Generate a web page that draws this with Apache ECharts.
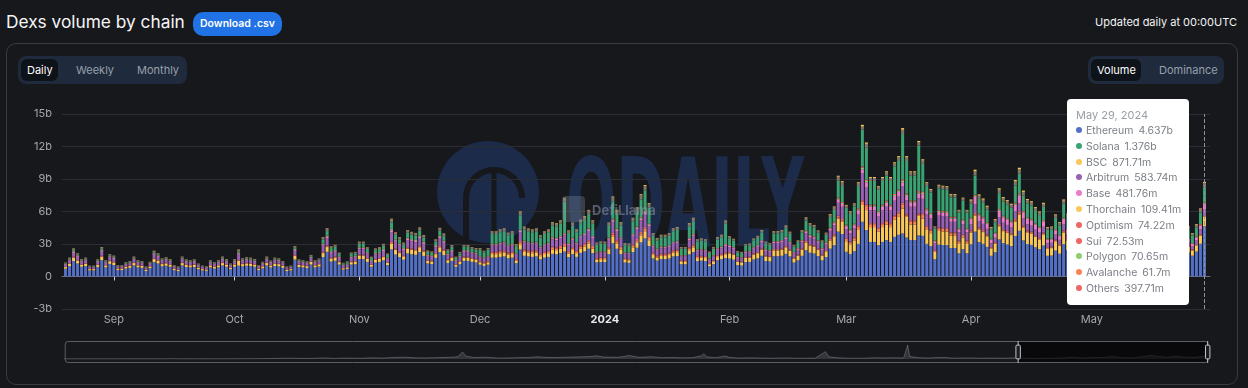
<!DOCTYPE html>
<html><head><meta charset="utf-8">
<script src="https://cdn.jsdelivr.net/npm/echarts@6/dist/echarts.min.js"></script>
<style>
html,body{margin:0;padding:0;width:1248px;height:388px;background:#17181c;overflow:hidden;font-family:Inter,"Noto Sans",sans-serif;}
.abs{position:absolute;}
#title{left:6px;top:8px;font-size:17.3px;line-height:28px;color:#f5f5f6;}
#dl{left:193px;top:12px;width:89px;height:24px;line-height:24px;border-radius:10px;background:#2172e5;color:#fff;font-size:10.5px;font-weight:600;text-align:center;}
#upd{right:11px;top:14px;font-size:11px;line-height:16px;color:#f2f3f4;}
#panel{left:6px;top:43px;width:1230px;height:340px;border:1px solid #393b42;border-radius:10px;}
.tg{background:#1f2a3c;border-radius:8px;height:28px;top:56px;}
.pill{background:#0e1219;border-radius:6px;height:22px;top:59px;}
.tt{top:56px;line-height:28px;font-size:11px;color:#97a0ab;}
.sel{color:#fff;}
#chart{left:0;top:0;width:1248px;height:388px;}
</style></head><body>
<div id="title" class="abs">Dexs volume by chain</div>
<div id="dl" class="abs">Download .csv</div>
<div id="upd" class="abs">Updated daily at 00:00UTC</div>
<div id="panel" class="abs"></div>
<div class="abs tg" style="left:18px;width:169px;"></div>
<div class="abs pill" style="left:21px;width:37px;"></div>
<div class="abs tt sel" style="left:27px;">Daily</div>
<div class="abs tt" style="left:76px;">Weekly</div>
<div class="abs tt" style="left:137px;">Monthly</div>
<div class="abs tg" style="left:1088px;width:136px;"></div>
<div class="abs pill" style="left:1091px;width:50px;"></div>
<div class="abs tt sel" style="left:1097px;">Volume</div>
<div class="abs tt" style="left:1159px;">Dominance</div>
<div id="chart" class="abs"></div>
<script>
// ---- data (billions USD), daily from 2023-08-20 to 2024-05-29 ----
const firstDay = [2023, 7, 20];
const dayCount = 284;

const ethereum = [.72,.97,1.43,1.20,.90,.97,.56,.56,.88,1.51,
.84,1.16,1.06,.59,.59,.73,.80,1.02,.84,.80,
.50,.76,1.33,1.20,.94,.99,.90,.59,.50,1.02,
.88,.84,.88,.67,.56,.52,.84,.73,.84,1.02,
.90,.67,.90,1.00,.94,.99,.97,.90,.59,.76,
1.02,.83,.97,.94,.80,.50,.56,1.56,.87,.84,
.78,1.10,.84,.92,
1.80,2.28,1.38,1.45,1.10,.63,.70,1.10,1.13,1.60,
1.60,1.35,.90,1.28,1.35,1.49,1.05,2.50,2.03,1.80,
1.55,2.13,2.05,2.00,2.25,1.90,1.20,1.15,1.72,2.24,
1.97,1.25,1.44,.90,1.13,1.44,1.44,1.35,1.30,
1.09,.98,1.09,1.74,1.74,1.81,1.85,1.68,1.74,1.23,
2.49,1.91,1.85,1.81,1.85,1.58,1.74,1.81,2.09,2.04,
2.16,2.30,1.78,2.06,1.81,2.18,2.31,2.56,2.16,1.30,
1.34,1.34,2.06,3.07,2.56,2.08,1.29,1.26,2.26,2.65,
3.15,3.51,2.81,1.66,1.47,1.60,1.60,1.66,1.85,1.89,
1.13,1.13,2.04,2.26,1.43,1.46,1.43,.95,1.13,1.50,
1.60,1.70,
1.65,1.55,1.05,1.01,1.33,1.35,1.57,1.67,1.91,1.43,
1.39,1.87,1.87,1.91,2.09,1.85,1.29,1.49,1.91,2.43,
2.19,2.12,1.89,1.49,1.80,2.57,2.88,4.14,3.92,
2.28,2.08,2.33,3.01,5.05,4.29,3.19,3.19,2.89,3.19,
3.36,3.19,3.66,3.85,3.97,3.60,3.36,3.36,3.80,3.75,
3.01,2.80,1.59,2.94,2.91,2.89,2.63,2.63,2.14,2.52,
2.14,
2.98,4.14,3.18,3.02,2.73,1.91,2.23,3.42,3.09,2.96,
2.81,3.74,4.22,3.33,3.00,2.92,2.69,2.52,2.86,1.91,
1.93,2.39,2.10,2.98,2.44,
2.83,3.07,2.50,2.02,1.73,3.12,2.64,2.40,2.21,1.82,
1.63,2.06,2.30,2.16,1.92,2.21,1.68,1.54,2.30,2.59,
2.88,2.35,2.21,1.92,1.82,3.26,3.65,3.12,2.50,2.21,
1.92,2.30,3.02,
4.637];

const bsc = [.15,.21,.31,.26,.19,.21,.12,.12,.19,.32,
.18,.25,.23,.13,.13,.16,.17,.22,.18,.17,
.11,.16,.28,.26,.20,.21,.19,.13,.11,.22,
.19,.18,.19,.14,.12,.11,.18,.16,.18,.22,
.19,.14,.19,.45,.20,.21,.21,.19,.13,.16,
.22,.18,.21,.20,.17,.11,.12,.33,.19,.18,
.17,.24,.18,.20,
.36,.44,.28,.29,.22,.13,.14,.22,.23,.32,
.32,.27,.18,.26,.27,.30,.21,.53,.41,.36,
.31,.43,.41,.40,.45,.38,.24,.23,.34,.45,
.39,.25,.29,.18,.23,.29,.29,.27,.26,
.21,.19,.21,.33,.33,.34,.35,.32,.33,.24,
.48,.36,.35,.34,.35,.30,.33,.34,.40,.39,
.41,.45,.34,.39,.34,.42,.44,.49,.41,.25,
.26,.26,.39,.58,.49,.40,.24,.24,.43,.50,
.60,.67,.54,.32,.28,.30,.30,.32,.35,.36,
.22,.22,.39,.43,.27,.28,.27,.18,.22,.29,
.30,.35,
.48,.45,.30,.29,.38,.39,.45,.48,.55,.41,
.40,.54,.54,.55,.60,.53,.37,.43,.55,.70,
.63,.61,.55,.43,.52,.74,.83,1.20,1.13,
.98,.89,1.00,1.29,1.55,1.84,1.37,1.37,1.24,1.37,
1.44,1.37,1.57,1.65,2.30,1.90,1.44,1.44,1.80,1.60,
1.29,1.20,.68,1.26,1.25,1.24,1.13,1.13,.92,1.08,
.92,
1.07,1.48,1.14,1.08,.98,.68,.80,1.22,1.10,1.06,
1.01,1.34,1.51,1.19,1.07,1.04,.96,.90,1.02,.68,
.69,.86,.75,1.07,.87,
.71,.77,.62,.50,.43,.78,.66,.60,.55,.46,
.41,.52,.58,.54,.48,.55,.42,.38,.58,.65,
.72,.59,.55,.48,.46,.82,.91,.78,.62,.55,
.48,.58,.76,
.87171];

const arbitrum = [.18,.24,.36,.30,.22,.24,.14,.14,.22,.38,
.21,.29,.27,.15,.15,.18,.20,.26,.21,.20,
.13,.19,.33,.30,.23,.25,.22,.15,.13,.26,
.22,.21,.22,.17,.14,.13,.21,.18,.21,.26,
.22,.17,.22,.50,.23,.25,.24,.22,.15,.19,
.26,.21,.24,.23,.20,.13,.14,.39,.22,.21,
.20,.28,.21,.23,
.58,.70,.44,.46,.35,.20,.22,.35,.36,.51,
.51,.43,.29,.41,.43,.48,.34,.90,.65,.58,
.50,.68,.66,.64,.72,.61,.38,.37,.55,.72,
.63,.40,.46,.29,.36,.46,.46,.43,.42,
.36,.33,.36,.58,.58,.60,.62,.56,.58,.41,
.83,.64,.62,.60,.62,.53,.58,.60,.70,.68,
.72,.80,.59,.69,.60,.73,.77,.85,.72,.43,
.45,.45,.69,1.02,.85,.69,.43,.42,.75,.88,
1.05,1.17,.94,.55,.49,.53,.53,.55,.62,.63,
.38,.38,.68,.75,.48,.49,.48,.32,.38,.50,
.53,.60,
.48,.45,.30,.29,.38,.39,.45,.48,.55,.41,
.40,.54,.54,.55,.60,.53,.37,.43,.55,.70,
.63,.61,.55,.43,.52,.74,.83,1.20,1.13,
.85,.77,.86,1.12,2.46,1.59,1.18,1.18,1.07,1.18,
1.25,1.18,1.36,1.43,1.50,1.30,1.25,1.25,1.40,1.39,
1.12,1.04,.59,1.09,1.08,1.07,.98,.98,.79,.94,
.79,
.57,.79,.61,.58,.52,.36,.42,.65,.59,.56,
.54,.71,.80,.63,.57,.56,.51,.48,.54,.36,
.37,.46,.40,.57,.46,
.41,.45,.36,.29,.25,.46,.39,.35,.32,.27,
.24,.30,.34,.32,.28,.32,.25,.22,.34,.38,
.42,.34,.32,.28,.27,.48,.53,.46,.36,.32,
.28,.34,.44,
.58374];

const solana = [.04,.05,.08,.06,.05,.05,.03,.03,.05,.08,
.05,.06,.06,.03,.03,.04,.04,.05,.05,.04,
.03,.04,.07,.06,.05,.05,.05,.03,.03,.05,
.05,.05,.05,.04,.03,.03,.05,.04,.05,.05,
.05,.04,.05,.08,.05,.05,.05,.05,.03,.04,
.05,.04,.05,.05,.04,.03,.03,.08,.05,.05,
.04,.06,.05,.05,
.36,.40,.28,.29,.22,.12,.14,.22,.22,.32,
.32,.27,.18,.26,.27,.30,.21,.60,.41,.36,
.31,.43,.41,.40,.45,.38,.24,.23,.34,.45,
.39,.25,.29,.18,.22,.29,.29,.27,.26,
.57,.51,.57,.91,.91,.95,.97,.88,.91,.65,
1.31,1.00,.97,.95,.97,.83,.91,.95,1.09,1.07,
1.13,2.90,.93,1.08,.95,1.14,1.21,1.34,1.13,.68,
.70,.70,1.08,1.61,1.34,1.09,.67,.66,1.18,1.39,
1.65,1.84,1.47,.87,.77,.84,.84,.87,.97,.99,
.59,.59,1.07,1.18,.75,.77,.75,.50,.59,.79,
.84,1.90,
.62,.59,.40,.38,.50,.51,.59,.63,.72,.54,
.52,.71,.71,.72,.79,.70,.49,.56,.72,.92,
.83,.80,.71,.56,.68,.97,1.09,1.56,1.48,
1.56,1.43,1.60,2.06,3.40,2.94,2.18,2.18,1.98,2.18,
2.30,2.18,2.51,2.64,4.20,3.00,2.30,2.30,4.20,2.57,
2.06,1.92,1.09,2.02,1.99,1.98,1.80,1.80,1.46,1.73,
1.46,
1.28,1.77,1.36,1.30,1.17,.82,.95,1.47,1.32,1.27,
1.21,1.60,1.81,1.43,1.29,1.25,1.15,1.08,1.22,.82,
.83,1.03,.90,1.28,1.04,
1.00,1.09,.88,.71,.61,1.11,.94,.85,.78,.65,
.58,.73,.82,.77,.68,.78,.60,.54,.82,.92,
1.02,.83,.78,.68,.65,1.16,1.29,1.11,.88,.78,
.68,.82,1.07,
1.376];

const base = [.05,.07,.10,.09,.06,.07,.04,.04,.06,.11,
.06,.08,.08,.04,.04,.05,.06,.07,.06,.06,
.04,.05,.09,.09,.07,.07,.06,.04,.04,.07,
.06,.06,.06,.05,.04,.04,.06,.05,.06,.07,
.06,.05,.06,.10,.07,.07,.07,.06,.04,.05,
.07,.06,.07,.07,.06,.04,.04,.11,.06,.06,
.06,.08,.06,.07,
.11,.13,.08,.09,.07,.04,.04,.07,.07,.10,
.10,.08,.05,.08,.08,.09,.06,.16,.12,.11,
.09,.13,.12,.12,.14,.11,.07,.07,.10,.13,
.12,.08,.09,.05,.07,.09,.09,.08,.08,
.05,.05,.05,.08,.08,.09,.09,.08,.08,.06,
.12,.09,.09,.09,.09,.08,.08,.09,.10,.10,
.10,.10,.08,.10,.09,.10,.11,.12,.10,.06,
.06,.06,.10,.15,.12,.10,.06,.06,.11,.13,
.15,.17,.13,.08,.07,.08,.08,.08,.09,.09,
.05,.05,.10,.11,.07,.07,.07,.05,.05,.07,
.08,.08,
.11,.10,.07,.07,.09,.09,.10,.11,.13,.10,
.09,.12,.12,.13,.14,.12,.09,.10,.13,.16,
.15,.14,.13,.10,.12,.17,.19,.28,.26,
.26,.24,.27,.34,.40,.49,.36,.36,.33,.36,
.38,.36,.42,.44,.40,.40,.38,.38,.45,.43,
.34,.32,.18,.34,.33,.33,.30,.30,.24,.29,
.24,
.50,.69,.53,.50,.46,.32,.37,.57,.51,.49,
.47,.62,.70,.55,.50,.49,.45,.42,.48,.32,
.32,.40,.35,.50,.41,
.35,.38,.31,.25,.22,.39,.33,.30,.28,.23,
.20,.26,.29,.27,.24,.28,.21,.19,.29,.32,
.36,.29,.28,.24,.23,.41,.46,.39,.31,.28,
.24,.29,.38,
.48176];

const others = [.06,.09,.13,.11,.08,.09,.05,.05,.08,.14,
.08,.10,.10,.05,.05,.07,.07,.09,.08,.07,
.05,.07,.12,.11,.08,.09,.08,.05,.05,.09,
.08,.08,.08,.06,.05,.05,.08,.07,.08,.09,
.08,.06,.08,.15,.08,.09,.09,.08,.05,.07,
.09,.07,.09,.08,.07,.05,.05,.14,.08,.08,
.07,.10,.08,.08,
.18,.22,.14,.15,.11,.06,.07,.11,.11,.16,
.16,.14,.09,.13,.14,.15,.11,.27,.20,.18,
.16,.21,.21,.20,.23,.19,.12,.12,.17,.22,
.20,.13,.14,.09,.11,.14,.14,.14,.13,
.13,.12,.13,.21,.21,.22,.22,.20,.21,.15,
.30,.23,.22,.22,.22,.19,.21,.22,.25,.24,
.26,.30,.21,.25,.22,.26,.28,.31,.26,.16,
.16,.16,.25,.37,.31,.25,.15,.15,.27,.32,
.38,.42,.34,.20,.18,.19,.19,.20,.22,.23,
.14,.14,.24,.27,.17,.17,.17,.11,.14,.18,
.19,.22,
.15,.14,.09,.09,.12,.12,.14,.15,.17,.13,
.12,.17,.17,.17,.19,.16,.11,.13,.17,.22,
.19,.19,.17,.13,.16,.23,.26,.37,.35,
.20,.18,.20,.26,.30,.37,.27,.27,.25,.27,
.29,.27,.31,.33,.40,.33,.29,.29,.32,.32,
.26,.24,.14,.25,.25,.25,.23,.23,.18,.22,
.18,
.28,.39,.30,.29,.26,.18,.21,.33,.29,.28,
.27,.36,.40,.32,.29,.28,.26,.24,.27,.18,
.18,.23,.20,.28,.23,
.27,.29,.23,.19,.16,.29,.25,.23,.21,.17,
.15,.19,.22,.20,.18,.21,.16,.14,.22,.24,
.27,.22,.21,.18,.17,.31,.34,.29,.23,.21,
.18,.22,.28,
.39771];

const optimism = [.03,.03,.05,.04,.03,.03,.02,.02,.03,.05,
.03,.04,.04,.02,.02,.03,.03,.04,.03,.03,
.02,.03,.05,.04,.03,.04,.03,.02,.02,.04,
.03,.03,.03,.02,.02,.02,.03,.03,.03,.04,
.03,.02,.03,.05,.03,.04,.03,.03,.02,.03,
.04,.03,.03,.03,.03,.02,.02,.06,.03,.03,
.03,.04,.03,.03,
.07,.09,.06,.06,.04,.03,.03,.04,.05,.06,
.06,.05,.04,.05,.05,.06,.04,.11,.08,.07,
.06,.09,.08,.08,.09,.08,.05,.05,.07,.09,
.08,.05,.06,.04,.05,.06,.06,.05,.05,
.05,.05,.05,.08,.08,.09,.09,.08,.08,.06,
.12,.09,.09,.09,.09,.08,.08,.09,.10,.10,
.10,.10,.08,.10,.09,.10,.11,.12,.10,.06,
.06,.06,.10,.15,.12,.10,.06,.06,.11,.13,
.15,.17,.13,.08,.07,.08,.08,.08,.09,.09,
.05,.05,.10,.11,.07,.07,.07,.05,.05,.07,
.08,.08,
.07,.07,.05,.05,.06,.06,.07,.07,.09,.06,
.06,.08,.08,.09,.09,.08,.06,.07,.09,.11,
.10,.09,.08,.07,.08,.11,.13,.18,.17,
.07,.06,.07,.09,.14,.12,.09,.09,.08,.09,
.10,.09,.10,.11,.13,.11,.10,.10,.10,.11,
.09,.08,.05,.08,.08,.08,.08,.08,.06,.07,
.06,
.11,.15,.11,.11,.10,.07,.08,.12,.11,.11,
.10,.13,.15,.12,.11,.10,.10,.09,.10,.07,
.07,.09,.08,.11,.09,
.06,.06,.05,.04,.04,.07,.06,.05,.05,.04,
.03,.04,.05,.05,.04,.05,.04,.03,.05,.05,
.06,.05,.05,.04,.04,.07,.08,.07,.05,.05,
.04,.05,.06,
.07422];

const polygon = [.03,.03,.05,.04,.03,.03,.02,.02,.03,.05,
.03,.04,.04,.02,.02,.03,.03,.04,.03,.03,
.02,.03,.05,.04,.03,.04,.03,.02,.02,.04,
.03,.03,.03,.02,.02,.02,.03,.03,.03,.04,
.03,.02,.03,.06,.03,.04,.03,.03,.02,.03,
.04,.03,.03,.03,.03,.02,.02,.06,.03,.03,
.03,.04,.03,.03,
.07,.09,.06,.06,.04,.03,.03,.04,.05,.06,
.06,.05,.04,.05,.05,.06,.04,.11,.08,.07,
.06,.09,.08,.08,.09,.08,.05,.05,.07,.09,
.08,.05,.06,.04,.05,.06,.06,.05,.05,
.03,.02,.03,.04,.04,.04,.04,.04,.04,.03,
.06,.05,.04,.04,.04,.04,.04,.04,.05,.05,
.05,.05,.04,.05,.04,.05,.06,.06,.05,.03,
.03,.03,.05,.07,.06,.05,.03,.03,.05,.06,
.08,.08,.07,.04,.04,.04,.04,.04,.04,.05,
.03,.03,.05,.05,.03,.03,.03,.02,.03,.04,
.04,.04,
.04,.03,.02,.02,.03,.03,.03,.04,.04,.03,
.03,.04,.04,.04,.05,.04,.03,.03,.04,.05,
.05,.05,.04,.03,.04,.06,.06,.09,.09,
.07,.06,.07,.09,.14,.12,.09,.09,.08,.09,
.10,.09,.10,.11,.13,.11,.10,.10,.10,.11,
.09,.08,.05,.08,.08,.08,.08,.08,.06,.07,
.06,
.07,.10,.08,.07,.07,.05,.05,.08,.07,.07,
.07,.09,.10,.08,.07,.07,.06,.06,.07,.05,
.05,.06,.05,.07,.06,
.06,.06,.05,.04,.04,.07,.06,.05,.05,.04,
.03,.04,.05,.05,.04,.05,.04,.03,.05,.05,
.06,.05,.05,.04,.04,.07,.08,.07,.05,.05,
.04,.05,.06,
.07065];

const avalanche = [.01,.02,.03,.02,.02,.02,.01,.01,.02,.03,
.01,.02,.02,.01,.01,.01,.01,.02,.01,.01,
.01,.01,.02,.02,.02,.02,.02,.01,.01,.02,
.02,.01,.02,.01,.01,.01,.01,.01,.01,.02,
.02,.01,.02,.03,.02,.02,.02,.02,.01,.01,
.02,.01,.02,.02,.01,.01,.01,.03,.02,.01,
.01,.02,.01,.02,
.04,.04,.03,.03,.02,.01,.01,.02,.02,.03,
.03,.03,.02,.03,.03,.03,.02,.06,.04,.04,
.03,.04,.04,.04,.04,.04,.02,.02,.03,.04,
.04,.02,.03,.02,.02,.03,.03,.03,.03,
.08,.07,.08,.12,.12,.13,.13,.12,.12,.09,
.18,.14,.13,.13,.13,.11,.12,.13,.15,.15,
.15,.15,.13,.15,.13,.16,.17,.18,.15,.09,
.10,.10,.15,.22,.18,.15,.09,.09,.16,.19,
.23,.25,.20,.12,.11,.11,.11,.12,.13,.14,
.08,.08,.15,.16,.10,.10,.10,.07,.08,.11,
.11,.10,
.04,.03,.02,.02,.03,.03,.03,.04,.04,.03,
.03,.04,.04,.04,.05,.04,.03,.03,.04,.05,
.05,.05,.04,.03,.04,.06,.06,.09,.09,
.20,.18,.20,.26,.30,.37,.27,.27,.25,.27,
.29,.27,.31,.33,.40,.13,.29,.29,.12,.32,
.26,.24,.14,.25,.25,.25,.23,.23,.18,.22,
.18,
.07,.10,.08,.07,.07,.05,.05,.08,.07,.07,
.07,.09,.10,.08,.07,.07,.06,.06,.07,.05,
.05,.06,.05,.07,.06,
.06,.06,.05,.04,.04,.07,.06,.05,.05,.04,
.03,.04,.05,.05,.04,.05,.04,.03,.05,.05,
.06,.05,.05,.04,.04,.07,.08,.07,.05,.05,
.04,.05,.06,
.0617];

const thorchain = [.01,.02,.03,.02,.02,.02,.01,.01,.02,.03,
.01,.02,.02,.01,.01,.01,.01,.02,.01,.01,
.01,.01,.02,.02,.02,.02,.02,.01,.01,.02,
.02,.01,.02,.01,.01,.01,.01,.01,.01,.02,
.02,.01,.02,.04,.02,.02,.02,.02,.01,.01,
.02,.01,.02,.02,.01,.01,.01,.03,.02,.01,
.01,.02,.01,.02,
.04,.04,.03,.03,.02,.01,.01,.02,.02,.03,
.03,.03,.02,.03,.03,.03,.02,.06,.04,.04,
.03,.04,.04,.04,.04,.04,.02,.02,.03,.04,
.04,.02,.03,.02,.02,.03,.03,.03,.03,
.03,.02,.03,.04,.04,.04,.04,.04,.04,.03,
.06,.05,.04,.04,.04,.04,.04,.04,.05,.05,
.05,.05,.04,.05,.04,.05,.06,.06,.05,.03,
.03,.03,.05,.07,.06,.05,.03,.03,.05,.06,
.08,.08,.07,.04,.04,.04,.04,.04,.04,.05,
.03,.03,.05,.05,.03,.03,.03,.02,.03,.04,
.04,.04,
.04,.03,.02,.02,.03,.03,.03,.04,.04,.03,
.03,.04,.04,.04,.05,.04,.03,.03,.04,.05,
.05,.05,.04,.03,.04,.06,.06,.09,.09,
.07,.06,.07,.09,.14,.12,.09,.09,.08,.09,
.10,.09,.10,.11,.15,.12,.10,.10,.11,.11,
.09,.08,.05,.08,.08,.08,.08,.08,.06,.07,
.06,
.11,.15,.11,.11,.10,.07,.08,.12,.11,.11,
.10,.13,.15,.12,.11,.10,.10,.09,.10,.07,
.07,.09,.08,.11,.09,
.09,.10,.08,.06,.05,.10,.08,.08,.07,.06,
.05,.06,.07,.07,.06,.07,.05,.05,.07,.08,
.09,.07,.07,.06,.06,.10,.11,.10,.08,.07,
.06,.07,.09,
.10941];

const sui = [.01,.01,.02,.01,.01,.01,.01,.01,.01,.02,
.01,.01,.01,.01,.01,.01,.01,.01,.01,.01,
.01,.01,.02,.01,.01,.01,.01,.01,.01,.01,
.01,.01,.01,.01,.01,.01,.01,.01,.01,.01,
.01,.01,.01,.02,.01,.01,.01,.01,.01,.01,
.01,.01,.01,.01,.01,.01,.01,.02,.01,.01,
.01,.01,.01,.01,
.02,.02,.01,.01,.01,.01,.01,.01,.01,.02,
.02,.01,.01,.01,.01,.02,.01,.03,.02,.02,
.02,.02,.02,.02,.02,.02,.01,.01,.02,.02,
.02,.01,.02,.01,.01,.02,.02,.02,.02,
.03,.03,.03,.04,.04,.04,.04,.04,.04,.03,
.05,.04,.04,.04,.04,.04,.04,.04,.05,.05,
.05,.06,.04,.05,.04,.05,.05,.06,.05,.03,
.03,.03,.05,.07,.06,.05,.03,.03,.05,.06,
.07,.08,.06,.04,.04,.04,.04,.04,.04,.05,
.03,.03,.05,.05,.04,.04,.04,.03,.03,.04,
.04,.05,
.04,.04,.03,.03,.03,.03,.04,.04,.05,.04,
.03,.04,.04,.05,.05,.04,.03,.04,.05,.06,
.05,.05,.05,.04,.04,.06,.07,.10,.09,
.07,.06,.07,.09,.12,.12,.09,.09,.08,.09,
.10,.09,.10,.11,.12,.11,.10,.10,.11,.11,
.09,.08,.05,.08,.08,.08,.08,.08,.06,.07,
.06,
.07,.10,.08,.07,.07,.05,.05,.08,.07,.07,
.07,.09,.10,.08,.07,.07,.06,.06,.07,.05,
.05,.06,.05,.07,.06,
.06,.06,.05,.04,.04,.07,.06,.05,.05,.04,
.03,.04,.05,.05,.04,.05,.04,.03,.05,.05,
.06,.05,.05,.04,.04,.07,.08,.07,.05,.05,
.04,.05,.06,
.07253];

// Full-history volume behind the range slider (billions)
const historyDates = ['2019-10-05','2019-11-01','2019-12-01','2020-01-01','2020-02-01','2020-03-01','2020-03-12','2020-03-20','2020-04-15','2020-05-15','2020-06-15','2020-07-15','2020-08-15','2020-09-01','2020-09-15','2020-10-01','2020-10-26','2020-11-10','2020-11-26','2020-12-15','2021-01-05','2021-01-20','2021-02-05','2021-02-22','2021-03-10','2021-03-25','2021-04-10','2021-04-25','2021-05-05','2021-05-12','2021-05-19','2021-05-24','2021-06-05','2021-06-21','2021-07-10','2021-07-25','2021-08-10','2021-08-25','2021-09-07','2021-09-20','2021-10-05','2021-10-20','2021-11-10','2021-11-26','2021-12-04','2021-12-15','2022-01-05','2022-01-22','2022-02-05','2022-02-24','2022-03-10','2022-03-25','2022-04-10','2022-04-25','2022-05-09','2022-05-12','2022-05-16','2022-05-30','2022-06-13','2022-06-20','2022-07-05','2022-07-20','2022-08-05','2022-08-20','2022-09-10','2022-09-25','2022-10-10','2022-10-25','2022-11-09','2022-11-14','2022-11-28','2022-12-15','2023-01-05','2023-01-20','2023-02-05','2023-02-20','2023-03-05','2023-03-11','2023-03-14','2023-03-28','2023-04-12','2023-04-21','2023-05-05','2023-05-20','2023-06-10','2023-06-25','2023-07-15','2023-08-01','2023-08-17','2023-09-01','2023-09-15','2023-10-01','2023-10-15','2023-11-01','2023-11-10','2023-11-25','2023-12-10','2023-12-25','2024-01-11','2024-01-25','2024-02-10','2024-02-28','2024-03-05','2024-03-15','2024-03-30','2024-04-13','2024-04-25','2024-05-10','2024-05-21','2024-05-29'];
const historyValues = [0.05,0.05,0.05,0.05,0.08,0.1,0.3,0.1,0.1,0.1,0.2,0.3,0.6,1.0,0.8,0.6,1.4,0.6,1.2,0.8,1.5,1.2,2.0,2.5,1.5,1.4,1.8,2.2,2.5,3.5,10.0,4.0,2.0,2.4,1.2,1.4,1.8,2.0,3.2,2.2,2.0,2.4,3.0,3.5,4.5,2.6,2.4,4.8,2.2,3.2,1.8,2.0,1.6,1.8,4.5,7.5,3.0,1.8,4.2,2.0,1.2,1.5,1.2,1.0,1.3,1.0,0.9,1.2,10.5,3.0,1.5,0.9,0.9,1.6,1.4,1.6,1.2,20.0,3.5,1.6,1.3,1.8,2.0,1.0,1.4,1.0,1.2,0.9,1.4,0.8,0.7,0.8,0.8,1.6,2.5,1.3,1.9,2.0,3.5,1.6,1.5,4.0,5.0,4.0,2.5,4.2,2.5,2.2,3.6,4.6];

const yTicks = [-3, 0, 3, 6, 9, 12, 15];

// stack order bottom -> top : [name, values, bar colour, tooltip marker colour]
const seriesDefs = [
  ['Ethereum', ethereum, '#5470c6', '#5470c6'],
  ['BSC', bsc, '#fac858', '#fac858'],
  ['Avalanche', avalanche, '#fc8452', '#fc8452'],
  ['Optimism', optimism, '#ee6666', '#ee6666'],
  ['Arbitrum', arbitrum, '#9a60b4', '#9a60b4'],
  ['Base', base, '#ea7ccc', '#ea7ccc'],
  ['Polygon', polygon, '#91cc75', '#91cc75'],
  ['Sui', sui, '#ee6666', '#ee6666'],
  ['Solana', solana, '#3ba272', '#3ba272'],
  ['Others', others, '#7f7867', '#ee6666'],
  ['Thorchain', thorchain, '#fac858', '#fac858']
];

seriesDefs.forEach(d => { if (d[1].length !== dayCount) throw new Error(d[0] + ' has ' + d[1].length + ' values'); });
if (historyDates.length !== historyValues.length) throw new Error('history mismatch ' + historyDates.length + ' ' + historyValues.length);

const DAY = 86400000;
const dates = [];
for (let i = 0; i < dayCount; i++) dates.push(new Date(firstDay[0], firstDay[1], firstDay[2] + i).getTime());
const axisMin = new Date(2019, 9, 5).getTime();
const axisMax = new Date(2024, 4, 30).getTime();
const windowStart = new Date(2023, 7, 19, 12).getTime();
const markerColor = {};
seriesDefs.forEach(d => markerColor[d[0]] = d[3]);

function fmtVal(v) {
  if (v >= 1) return (+v.toFixed(3)) + 'b';
  return (+(v * 1000).toFixed(2)) + 'm';
}
const MONTHS = ['Jan','Feb','Mar','Apr','May','Jun','Jul','Aug','Sep','Oct','Nov','Dec'];

const chart = echarts.init(document.getElementById('chart'), null, {renderer: 'canvas'});
const series = seriesDefs.map(d => ({
  name: d[0], type: 'bar', stack: 'total', xAxisIndex: 0, yAxisIndex: 0,
  barWidth: 3, itemStyle: {color: d[2]}, emphasis: {disabled: true},
  data: d[1].map((v, i) => [dates[i], v])
}));
series.push({
  name: 'history', type: 'line', xAxisIndex: 1, yAxisIndex: 1, symbol: 'none', silent: true,
  lineStyle: {color: 'rgba(210,219,238,0.45)', width: 0.6},
  areaStyle: {color: 'rgba(210,219,238,0.22)'},
  data: historyDates.map((d, i) => [d, historyValues[i]]),
  z: 1
});

chart.setOption({
  animation: false,
  textStyle: {fontFamily: 'Inter'},
  grid: [
    {left: 62, right: 38, top: 114, bottom: 79},
    {left: 64, right: 40, top: 341, height: 22}
  ],
  graphic: [
    {type: 'circle', silent: true, z: -10, shape: {cx: 488, cy: 192, r: 51}, style: {fill: '#1b2b49'}},
    {type: 'arc', silent: true, z: -9, shape: {cx: 494, cy: 198, r: 28, startAngle: Math.PI, endAngle: Math.PI * 2}, style: {stroke: '#17181c', lineWidth: 6, fill: null}},
    {type: 'line', silent: true, z: -9, shape: {x1: 466, y1: 198, x2: 466, y2: 243}, style: {stroke: '#17181c', lineWidth: 6}},
    {type: 'line', silent: true, z: -9, shape: {x1: 494, y1: 170, x2: 494, y2: 243}, style: {stroke: '#17181c', lineWidth: 5}},
    {type: 'text', silent: true, z: -10, x: 566, y: 214, scaleX: 0.48, style: {text: 'ODAILY', fill: '#1b2b49', font: 'bold 123px "DejaVu Sans"', verticalAlign: 'middle'}},
    {type: 'rect', silent: true, z: 100, shape: {x: 562, y: 196, width: 23, height: 26, r: 4}, style: {fill: 'rgba(150,160,180,0.28)'}},
    {type: 'text', silent: true, z: 100, x: 592, y: 211, style: {text: 'DefiLlama', fill: 'rgba(150,160,180,0.5)', font: 'bold 13px Inter', verticalAlign: 'middle'}}
  ],
  tooltip: {
    trigger: 'axis', triggerOn: 'none', alwaysShowContent: true, transitionDuration: 0,
    backgroundColor: '#ffffff', borderWidth: 0, padding: [8, 8, 8, 9],
    extraCssText: 'box-shadow:none;border-radius:4px;',
    textStyle: {color: '#7b7f86', fontSize: 10.5, fontFamily: 'Inter'},
    axisPointer: {type: 'line', lineStyle: {type: 'dashed', color: '#8f9297', width: 1}},
    position: function (point, params, dom, rect, size) {
      return [point[0] - size.contentSize[0] - 15, 99];
    },
    formatter: function (params) {
      const ps = params.filter(p => p.seriesName !== 'history');
      const main = ps.filter(p => p.seriesName !== 'Others').sort((a, b) => b.value[1] - a.value[1]);
      const rest = ps.filter(p => p.seriesName === 'Others');
      const rows = main.concat(rest);
      const d = new Date(rows[0].value[0]);
      let html = '<div style="color:#9a9ea5;line-height:16px;font-size:11px;">' + MONTHS[d.getMonth()] + ' ' + d.getDate() + ', ' + d.getFullYear() + '</div>';
      rows.forEach(p => {
        html += '<div style="line-height:15.8px;white-space:nowrap;"><span style="display:inline-block;width:6px;height:6px;border-radius:50%;background:' + markerColor[p.seriesName] + ';margin-right:4px;vertical-align:1px;"></span>' + p.seriesName + '<span style="display:inline-block;width:5px"></span>' + fmtVal(p.value[1]) + '</div>';
      });
      return html;
    }
  },
  xAxis: [
    {
      type: 'time', gridIndex: 0, min: axisMin, max: axisMax, splitNumber: 10, minInterval: 28 * DAY,
      axisLine: {onZero: true, lineStyle: {color: '#6e7079'}},
      axisTick: {show: true, length: 4, lineStyle: {color: '#c9ccd1'}},
      splitLine: {show: false},
      axisLabel: {
        margin: 5, color: '#a4a7ad', fontSize: 11, fontFamily: 'Inter',
        formatter: {year: '{yr|{yyyy}}', month: '{MMM}', day: '{MMM} {d}'},
        rich: {yr: {fontWeight: 'bold', color: '#e8e9eb', fontSize: 11, fontFamily: 'Inter'}}
      }
    },
    {type: 'time', gridIndex: 1, min: axisMin, max: axisMax, show: false}
  ],
  yAxis: [
    {
      type: 'value', gridIndex: 0, min: yTicks[0], max: yTicks[yTicks.length - 1], interval: 3,
      axisLine: {show: false}, axisTick: {show: false},
      splitLine: {lineStyle: {color: '#2a2d33'}},
      axisLabel: {color: '#a4a7ad', fontSize: 11, margin: 10, fontFamily: 'Inter',
        formatter: v => v === 0 ? '0' : v + 'b'}
    },
    {type: 'value', gridIndex: 1, min: -6, max: 26, show: false}
  ],
  dataZoom: [{
    type: 'slider', xAxisIndex: 0, filterMode: 'filter',
    startValue: windowStart, endValue: axisMax,
    left: 64, right: 40, top: 341, height: 22,
    showDataShadow: false, showDetail: false, brushSelect: false,
    backgroundColor: 'rgba(0,0,0,0)', borderColor: '#5b5e66', borderRadius: 3,
    fillerColor: 'rgba(0,0,0,0.6)',
    handleStyle: {color: '#1b1c20', borderColor: '#c5c7cb', borderWidth: 1},
    moveHandleSize: 6, moveHandleStyle: {color: '#5b5e66', opacity: 1}
  }],
  series: series
});

const px = chart.convertToPixel({xAxisIndex: 0}, dates[dayCount - 1]);
chart.dispatchAction({type: 'showTip', x: px, y: 200});
</script>
</body></html>
